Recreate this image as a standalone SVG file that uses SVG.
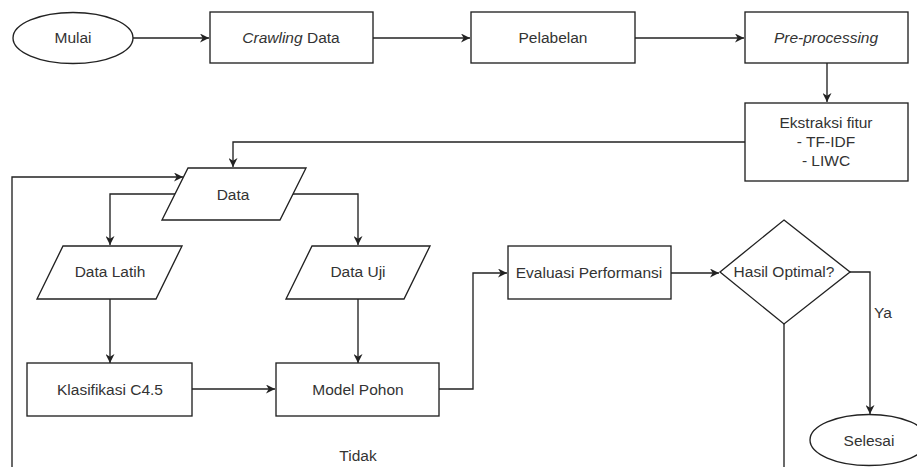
<svg xmlns="http://www.w3.org/2000/svg" width="917" height="467" viewBox="0 0 917 467">
<defs>
<style>
.shape{fill:#fff;stroke:#222;stroke-width:1.35}
.edge{fill:none;stroke:#222;stroke-width:1.35}
.lbl{font-family:"Liberation Sans",Arial,sans-serif;font-size:15.5px;fill:#333;text-anchor:middle}
.it{font-style:italic}
</style>
<marker id="arr" viewBox="0 0 10 10" refX="10" refY="5" markerWidth="9" markerHeight="9" markerUnits="userSpaceOnUse" orient="auto">
<path d="M0,0 L10,5 L0,10 L3,5 Z" fill="#222"/>
</marker>
</defs>
<rect width="917" height="467" fill="#fff"/>
<g id="connectors">
<path class="edge" d="M133,38 H209" marker-end="url(#arr)"/>
<path class="edge" d="M373,38 H470" marker-end="url(#arr)"/>
<path class="edge" d="M635,38 H744" marker-end="url(#arr)"/>
<path class="edge" d="M827,63 V102" marker-end="url(#arr)"/>
<path class="edge" d="M745,142 H233 V167" marker-end="url(#arr)"/>
<path class="edge" d="M12,467 V177 H183" marker-end="url(#arr)"/>
<path class="edge" d="M175,194 H110 V245" marker-end="url(#arr)"/>
<path class="edge" d="M293,194 H358 V245" marker-end="url(#arr)"/>
<path class="edge" d="M110,299 V363" marker-end="url(#arr)"/>
<path class="edge" d="M358,299 V363" marker-end="url(#arr)"/>
<path class="edge" d="M191,389 H275" marker-end="url(#arr)"/>
<path class="edge" d="M439,389 H473 V273 H507" marker-end="url(#arr)"/>
<path class="edge" d="M671,273 H719" marker-end="url(#arr)"/>
<path class="edge" d="M850,272 H870 V414" marker-end="url(#arr)"/>
<path class="edge" d="M784,324 V467"/>
<text class="lbl" x="883" y="313" dy="0.35em">Ya</text>
<text class="lbl" x="358" y="456" dy="0.35em">Tidak</text>
</g>
<g id="mulai">
<ellipse class="shape" cx="73" cy="38" rx="60" ry="25.5"/>
<text class="lbl" x="73" y="38" dy="0.35em">Mulai</text>
</g>
<g id="crawling">
<rect class="shape" x="210" y="12" width="163" height="51"/>
<text class="lbl" x="291" y="38" dy="0.35em"><tspan class="it">Crawling</tspan> Data</text>
</g>
<g id="pelabelan">
<rect class="shape" x="471" y="12" width="164" height="51"/>
<text class="lbl" x="553" y="38" dy="0.35em">Pelabelan</text>
</g>
<g id="preprocessing">
<rect class="shape" x="745" y="12" width="163" height="51"/>
<text class="lbl it" x="826" y="38" dy="0.35em">Pre-processing</text>
</g>
<g id="ekstraksi">
<rect class="shape" x="745" y="103" width="163" height="78"/>
<text class="lbl" x="826" y="123" dy="0.35em">Ekstraksi fitur</text>
<text class="lbl" x="826" y="142" dy="0.35em">- TF-IDF</text>
<text class="lbl" x="826" y="161" dy="0.35em">- LIWC</text>
</g>
<g id="data">
<polygon class="shape" points="188,168 306,168 280,220 162,220"/>
<text class="lbl" x="233" y="195" dy="0.35em">Data</text>
</g>
<g id="data-latih">
<polygon class="shape" points="63,246 182,246 156,299 37,299"/>
<text class="lbl" x="110" y="272" dy="0.35em">Data Latih</text>
</g>
<g id="data-uji">
<polygon class="shape" points="312,246 430,246 404,299 286,299"/>
<text class="lbl" x="358" y="272" dy="0.35em">Data Uji</text>
</g>
<g id="klasifikasi">
<rect class="shape" x="27" y="363" width="165" height="53"/>
<text class="lbl" x="110" y="390" dy="0.35em">Klasifikasi C4.5</text>
</g>
<g id="model-pohon">
<rect class="shape" x="276" y="363" width="163" height="53"/>
<text class="lbl" x="358" y="390" dy="0.35em">Model Pohon</text>
</g>
<g id="evaluasi">
<rect class="shape" x="508" y="246" width="163" height="53"/>
<text class="lbl" x="589" y="273" dy="0.35em">Evaluasi Performansi</text>
</g>
<g id="hasil-optimal">
<polygon class="shape" points="784,220 850,272 784,324 720,272"/>
<text class="lbl" x="784" y="272" dy="0.35em">Hasil Optimal?</text>
</g>
<g id="selesai">
<ellipse class="shape" cx="869" cy="440" rx="59" ry="25.5"/>
<text class="lbl" x="869" y="441" dy="0.35em">Selesai</text>
</g>
</svg>
